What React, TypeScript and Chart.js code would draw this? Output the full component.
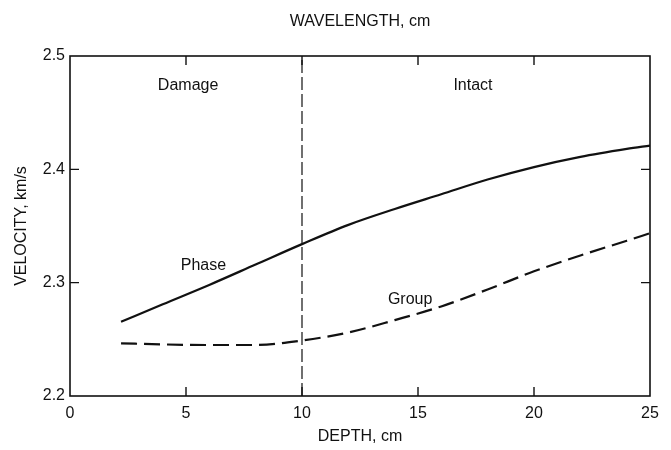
import React, { useEffect, useRef } from "react";
import { Chart, registerables } from "chart.js";

Chart.register(...registerables);

const depth = [2.2, 4, 6, 8, 10, 12, 14, 16, 18, 20, 22, 24, 25];
const phase = [2.2655, 2.281, 2.298, 2.316, 2.334, 2.351, 2.365, 2.378, 2.391, 2.402, 2.411, 2.418, 2.421];
const group = [2.2465, 2.2455, 2.245, 2.245, 2.249, 2.256, 2.267, 2.279, 2.294, 2.31, 2.324, 2.337, 2.3436];
const boundaryX = [10, 10];
const boundaryY = [2.2, 2.5];

const xTitle = "DEPTH, cm";
const yTitle = "VELOCITY, km/s";
const topTitle = "WAVELENGTH, cm";

const labelTexts = ["Damage", "Intact", "Phase", "Group"];
const labelX = [5.09, 17.37, 5.75, 14.66];
const labelY = [2.474, 2.474, 2.3147, 2.2847];

const FONT = "'Liberation Sans', Arial, Helvetica, sans-serif";

const framePlugin = {
  id: "frame",
  afterDatasetsDraw(chart: any) {
    const { ctx, chartArea } = chart;
    const xs = chart.scales.x;
    const ys = chart.scales.y;
    const { left, right, top, bottom } = chartArea;
    ctx.save();
    ctx.strokeStyle = "#111";
    ctx.lineWidth = 1.6;
    ctx.strokeRect(left, top, right - left, bottom - top);
    ctx.lineWidth = 1.4;
    const tl = 9;
    xs.ticks.forEach((t: any) => {
      if (t.value <= xs.min || t.value >= xs.max) return;
      const px = xs.getPixelForValue(t.value);
      ctx.beginPath();
      ctx.moveTo(px, bottom);
      ctx.lineTo(px, bottom - tl);
      ctx.moveTo(px, top);
      ctx.lineTo(px, top + tl);
      ctx.stroke();
    });
    ys.ticks.forEach((t: any) => {
      if (t.value <= ys.min + 1e-9 || t.value >= ys.max - 1e-9) return;
      const py = ys.getPixelForValue(t.value);
      ctx.beginPath();
      ctx.moveTo(left, py);
      ctx.lineTo(left + tl, py);
      ctx.moveTo(right, py);
      ctx.lineTo(right - tl, py);
      ctx.stroke();
    });
    ctx.fillStyle = "#111";
    ctx.textAlign = "center";
    ctx.textBaseline = "middle";
    ctx.font = `16px ${FONT}`;
    ctx.fillText(topTitle, (left + right) / 2, 22);
    labelTexts.forEach((txt, i) => {
      ctx.fillText(txt, xs.getPixelForValue(labelX[i]), ys.getPixelForValue(labelY[i]));
    });
    ctx.restore();
  },
};

export default function App() {
  const ref = useRef<HTMLCanvasElement | null>(null);
  useEffect(() => {
    if (!ref.current) return;
    const chart = new Chart(ref.current, {
      type: "line",
      data: {
        datasets: [
          {
            label: "Phase",
            data: depth.map((d, i) => ({ x: d, y: phase[i] })),
            borderColor: "#111",
            borderWidth: 2.2,
            pointRadius: 0,
            cubicInterpolationMode: "monotone",
          },
          {
            label: "Group",
            data: depth.map((d, i) => ({ x: d, y: group[i] })),
            borderColor: "#111",
            borderWidth: 2.2,
            borderDash: [16, 7],
            pointRadius: 0,
            cubicInterpolationMode: "monotone",
          },
          {
            label: "Boundary",
            data: boundaryX.map((d, i) => ({ x: d, y: boundaryY[i] })),
            borderColor: "#111",
            borderWidth: 1.2,
            borderDash: [13, 4],
            pointRadius: 0,
          },
        ],
      },
      options: {
        animation: false,
        responsive: false,
        maintainAspectRatio: false,
        events: [],
        layout: { padding: { top: 56, right: 21, left: 0, bottom: 0 } },
        plugins: { legend: { display: false }, tooltip: { enabled: false } },
        scales: {
          x: {
            type: "linear",
            min: 0,
            max: 25,
            grid: { display: false, drawTicks: false },
            border: { display: false },
            ticks: {
              stepSize: 5,
              padding: 8,
              color: "#111",
              font: { family: FONT, size: 16 },
              maxRotation: 0,
            },
            title: {
              display: true,
              text: xTitle,
              color: "#111",
              font: { family: FONT, size: 16 },
              padding: { top: 0, bottom: 4 },
            },
            afterFit: (s: any) => {
              s.height = 54;
            },
          },
          y: {
            type: "linear",
            min: 2.2,
            max: 2.5,
            grid: { display: false, drawTicks: false },
            border: { display: false },
            ticks: {
              stepSize: 0.1,
              padding: 5,
              color: "#111",
              font: { family: FONT, size: 16 },
              callback: (v: any) => Number(v).toFixed(1),
            },
            title: {
              display: true,
              text: yTitle,
              color: "#111",
              font: { family: FONT, size: 16 },
              padding: { top: 12, bottom: 0 },
            },
            afterFit: (s: any) => {
              s.width = 70;
            },
          },
        },
      },
      plugins: [framePlugin],
    } as any);
    return () => chart.destroy();
  }, []);
  return (
    <div style={{ position: "fixed", left: 0, top: 0, width: 671, height: 450, background: "#fff" }}>
      <canvas ref={ref} width={671} height={450} style={{ width: 671, height: 450 }} />
    </div>
  );
}
